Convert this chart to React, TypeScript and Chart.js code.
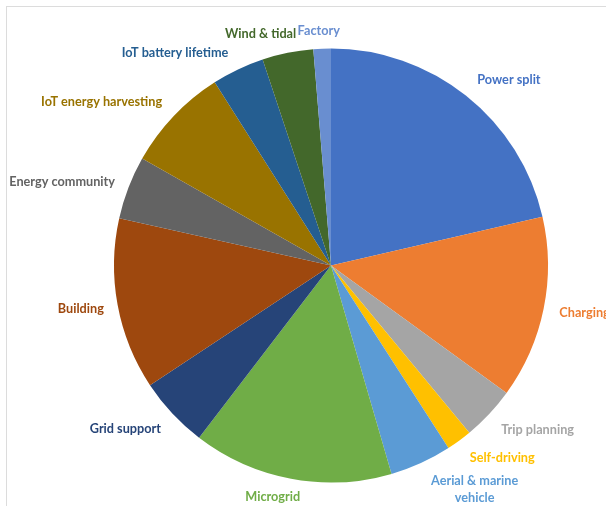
import React, { useEffect, useRef } from "react";
import { Chart, registerables } from "chart.js";

Chart.register(...registerables);

const categories: (string | string[])[] = [
  "Power split",
  "Charging",
  "Trip planning",
  "Self-driving",
  ["Aerial & marine", "vehicle"],
  "Microgrid",
  "Grid support",
  "Building",
  "Energy community",
  "IoT energy harvesting",
  "IoT battery lifetime",
  "Wind & tidal",
  "Factory",
];

const shares: number[] = [21.4, 13.6, 4.0, 1.9, 4.6, 14.9, 5.3, 12.8, 4.7, 7.8, 3.9, 3.8, 1.3];

const colors: string[] = [
  "#4472C4",
  "#ED7D31",
  "#A5A5A5",
  "#FFC000",
  "#5B9BD5",
  "#70AD47",
  "#264478",
  "#9E480E",
  "#636363",
  "#997300",
  "#255E91",
  "#43682B",
  "#698ED0",
];

// label layout: angular nudge (deg) from the slice's mid-angle, and extra distance
// of the label centre beyond the pie's outer radius (px)
const labelAngleNudge: number[] = [5.3, -0.9, -4.7, -5.5, -8.2, 3.5, 4.5, 0.7, -3.7, -8, -10.9, -5.4, -0.65];
const labelExtraRadius: number[] = [40, 41, 47, 40.5, 49, 21.7, 45.8, 36.8, 64.7, 65, 46.6, 24.9, 17.8];

const FONT = "bold 12.7px Lato, 'Open Sans', sans-serif";
const LINE_H = 17;

const outsideLabels = {
  id: "outsideLabels",
  afterDatasetsDraw(chart: any) {
    const ctx: CanvasRenderingContext2D = chart.ctx;
    const meta = chart.getDatasetMeta(0);
    ctx.save();
    ctx.font = FONT;
    ctx.textAlign = "center";
    ctx.textBaseline = "middle";
    meta.data.forEach((arc: any, i: number) => {
      const p = arc.getProps(["x", "y", "startAngle", "endAngle", "outerRadius"], true);
      const mid = (p.startAngle + p.endAngle) / 2 + (labelAngleNudge[i] * Math.PI) / 180;
      const r = p.outerRadius + labelExtraRadius[i];
      const cx = p.x + r * Math.cos(mid);
      const cy = p.y + r * Math.sin(mid);
      const raw = categories[i];
      const lines = Array.isArray(raw) ? raw : [raw];
      const h = lines.length * LINE_H;
      ctx.fillStyle = colors[i];
      lines.forEach((l, k) => {
        ctx.fillText(l, cx, cy - h / 2 + LINE_H / 2 + k * LINE_H);
      });
    });
    ctx.restore();
  },
};

export default function App() {
  const ref = useRef<HTMLCanvasElement>(null);
  useEffect(() => {
    document.body.style.margin = "0";
    const chart = new Chart(ref.current!, {
      type: "pie",
      data: {
        labels: categories as any,
        datasets: [
          {
            data: shares,
            backgroundColor: colors,
            borderWidth: 0,
          },
        ],
      },
      options: {
        responsive: false,
        animation: false,
        layout: { padding: { top: 48.5, bottom: 23.5, left: 56, right: 0 } },
        plugins: {
          legend: { display: false },
          tooltip: { enabled: false },
        },
      },
      plugins: [outsideLabels],
    });
    return () => chart.destroy();
  }, []);
  return (
    <div style={{ position: "fixed", left: 0, top: 0, width: 606, height: 506, background: "#fff", overflow: "hidden" }}>
      <div
        style={{
          position: "absolute",
          left: 6,
          top: 6,
          width: 700,
          height: 700,
          borderLeft: "1px solid #dcdcdc",
          borderTop: "1px solid #dcdcdc",
        }}
      />
      <canvas ref={ref} width={606} height={506} style={{ position: "absolute", left: 0, top: 0 }} />
    </div>
  );
}
